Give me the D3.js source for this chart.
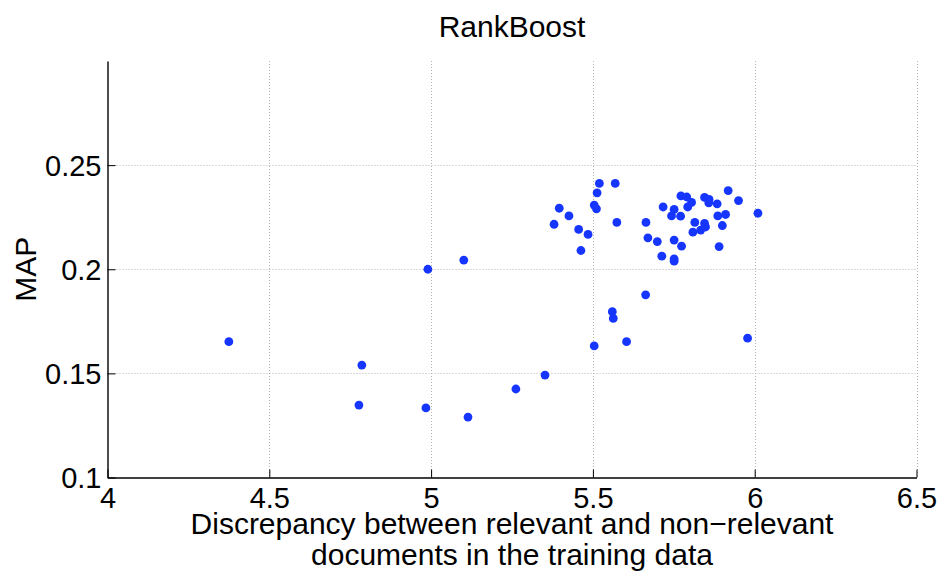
<!DOCTYPE html>
<html>
<head>
<meta charset="utf-8">
<script src="https://cdn.jsdelivr.net/npm/d3@7"></script>
<style>
  html, body { margin: 0; padding: 0; background: #fff; }
  svg { display: block; }
  text { font-family: "Liberation Sans", Arial, Helvetica, sans-serif; fill: #000; }
</style>
</head>
<body>
<svg id="chart" width="942" height="574"></svg>
<script>
// RankBoost: MAP vs. discrepancy between relevant and non-relevant documents
const discrepancy = [
  4.375, 4.786, 4.777, 4.984, 4.990, 5.101, 5.114, 5.262, 5.352,
  5.663, 5.560, 5.563, 5.604, 5.504, 5.978,
  5.520, 5.569, 5.513, 5.504, 5.511, 5.396, 5.426, 5.380, 5.456, 5.485, 5.463,
  5.574, 5.664, 5.670, 5.699, 5.713, 5.751, 5.774, 5.751, 5.751,
  5.717, 5.751, 5.743, 5.771, 5.772, 5.790, 5.805, 5.793, 5.815, 5.809,
  5.833, 5.845, 5.848, 5.845, 5.859, 5.858, 5.884, 5.886, 5.910, 5.900,
  5.890, 5.918, 5.950, 6.010
];
const mapScore = [
  0.1652, 0.1540, 0.1348, 0.1334, 0.2000, 0.2044, 0.1290, 0.1425, 0.1492,
  0.1877, 0.1796, 0.1764, 0.1652, 0.1632, 0.1669,
  0.2412, 0.2412, 0.2367, 0.2308, 0.2290, 0.2293, 0.2256, 0.2216, 0.2191, 0.2167, 0.2090,
  0.2225, 0.2225, 0.2151, 0.2133, 0.2063, 0.2140, 0.2111, 0.2050, 0.2039,
  0.2299, 0.2287, 0.2256, 0.2255, 0.2352, 0.2347, 0.2321, 0.2299, 0.2225, 0.2178,
  0.2188, 0.2220, 0.2203, 0.2345, 0.2335, 0.2319, 0.2314, 0.2256, 0.2263, 0.2210,
  0.2109, 0.2378, 0.2330, 0.2269
];
const xTicks = [4, 4.5, 5, 5.5, 6, 6.5];
const yTicks = [0.1, 0.15, 0.2, 0.25];
const xDomain = [4, 6.5];
const yDomain = [0.1, 0.3];

const svg = d3.select("#chart");
const plotL = 107.5, plotR = 916.5, plotT = 61, plotB = 477.5;

const x = d3.scaleLinear().domain(xDomain).range([plotL, plotR]);
const y = d3.scaleLinear().domain(yDomain).range([plotB, plotT]);

// dotted grid
const grid = svg.append("g")
  .attr("stroke", "#b4b4b4")
  .attr("stroke-width", 1)
  .attr("stroke-dasharray", "1,2");
grid.selectAll("line.vx").data(xTicks.filter(t => t > xDomain[0]))
  .join("line")
  .attr("x1", d => Math.round(x(d)) + 0.5).attr("x2", d => Math.round(x(d)) + 0.5)
  .attr("y1", plotT).attr("y2", plotB);
grid.selectAll("line.hy").data(yTicks.filter(t => t > yDomain[0]))
  .join("line")
  .attr("x1", plotL).attr("x2", plotR)
  .attr("y1", d => Math.round(y(d)) + 0.5).attr("y2", d => Math.round(y(d)) + 0.5);

// axes with inward ticks
const xAxis = d3.axisBottom(x).tickValues(xTicks).tickSizeInner(-8).tickSizeOuter(0)
  .tickFormat(d3.format("~g"));
const yAxis = d3.axisLeft(y).tickValues(yTicks).tickSizeInner(-8).tickSizeOuter(0)
  .tickFormat(d3.format("~g"));

const gx = svg.append("g").attr("transform", `translate(0,${plotB})`).call(xAxis);
const gy = svg.append("g").attr("transform", `translate(${plotL},0)`).call(yAxis);

[gx, gy].forEach(g => {
  g.select(".domain").attr("stroke", "#000").attr("stroke-width", 1.4);
  g.selectAll(".tick line").attr("stroke", "#000").attr("stroke-width", 1);
  g.selectAll(".tick text")
    .attr("font-family", "Liberation Sans, Arial, Helvetica, sans-serif")
    .attr("font-size", 29).attr("fill", "#000");
});
gx.selectAll(".tick text").attr("y", 10).attr("dy", "0.71em");
gy.selectAll(".tick text").attr("x", -6).attr("dy", "0.36em");

// points
svg.append("g").selectAll("circle")
  .data(discrepancy.map((d, i) => [d, mapScore[i]]))
  .join("circle")
  .attr("cx", d => x(d[0]))
  .attr("cy", d => y(d[1]))
  .attr("r", 4.4)
  .attr("fill", "#1636ff");

// title and labels
const cx = (plotL + plotR) / 2;
svg.append("text").attr("x", cx).attr("y", 37).attr("text-anchor", "middle")
  .attr("font-size", 30).text("RankBoost");
svg.append("text")
  .attr("transform", `translate(36,${(plotT + plotB) / 2}) rotate(-90)`)
  .attr("text-anchor", "middle").attr("font-size", 30).text("MAP");
const xl = svg.append("text").attr("text-anchor", "middle").attr("font-size", 30);
xl.append("tspan").attr("x", cx).attr("y", 534).text("Discrepancy between relevant and non\u2212relevant");
xl.append("tspan").attr("x", cx).attr("y", 565).text("documents in the training data");
</script>
</body>
</html>
